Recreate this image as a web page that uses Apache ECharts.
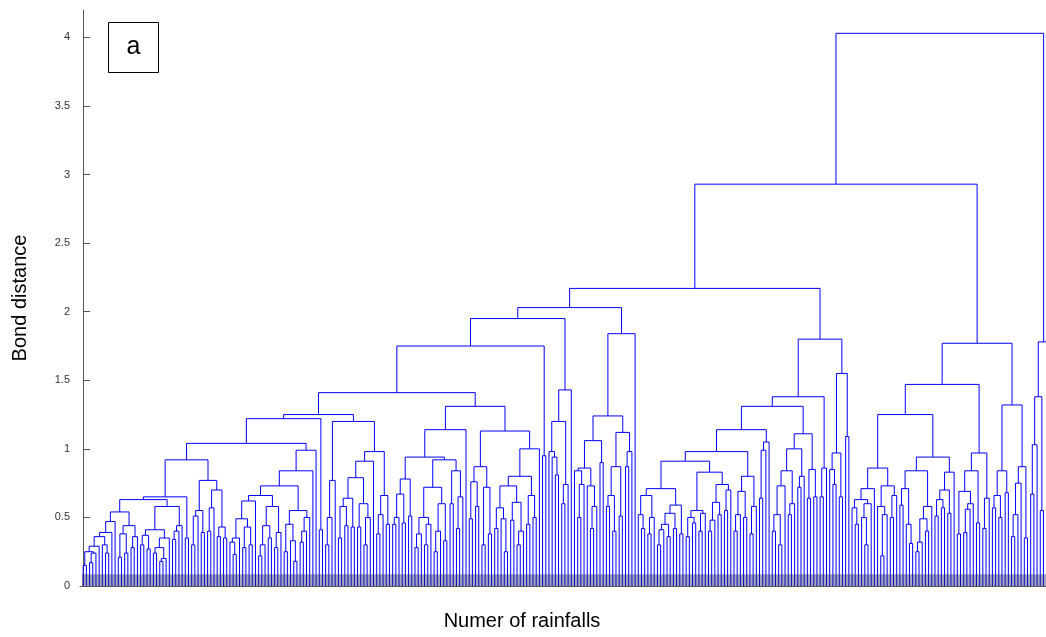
<!DOCTYPE html>
<html>
<head>
<meta charset="utf-8">
<script src="https://cdn.jsdelivr.net/npm/echarts@6/dist/echarts.min.js"></script>
<style>
  html, body { margin: 0; padding: 0; background: #fff; }
  #chart { width: 1046px; height: 637px; }
</style>
</head>
<body>
<div id="chart"></div>
<script>
// dendrogram in postfix: "." = one rainfall, a number = merge the last two at height/100
// {name} = a sub cluster written below
var treeTop = '{L} {L2} 104 . . 41 122 {KR} 125 {IR} 141 . . 95 175 {Gr} 195 {J} 203 {E} 217 {D} 293 {B} 403';

var treeL = '. . 15 . . 17 . 24 25 . 29 . . . 24 30 36 . 39 . 47 . . 21 . . 24 38 . . 28 . 36 44 54 ' +
  '. . 30 . . 27 37 . . 24 . . 18 . 20 28 . 35 41 . . 34 . 40 . 44 58 63 . . 35 65 ' +
  '. . 30 . 51 . . 39 55 . . 40 . 57 . . 36 . . 35 43 70 77 92';

var treeL2 = '. . . 23 32 . 35 . . 28 . . 30 43 49 . 62 . . 22 . 30 . . 35 44 . . 28 . 39 58 66 ' +
  '. . 25 . . . 18 33 45 . . 32 . 40 . 50 55 73 . 84 . 99';

var treeKR = '. . 30 . 50 . 77 . . 35 . . 44 58 . . 43 64 . . 43 . . 30 . 50 60 79 . 91 ' +
  '. . 38 . 52 . . 45 66 98 120';

var treeIR = '. . 45 . 50 . . 46 67 . . 51 78 . . 28 . 38 . . 30 . 45 50 . . 25 . 40 . . 33 60 72 ' +
  '. . 60 . . 42 . 65 84 92 94 . 114 ' +
  '. . 49 . . 58 76 . . 30 . . 38 72 87 . . 42 . . . 25 49 57 . . 48 . . 30 . 40 61 73 ' +
  '. . 45 . . 50 66 80 . 100 113 131';

var treeGr = '. . . . 81 94 98 . . 60 . 74 120 . 143';

var treeJ = '. . . 50 . 74 84 . . . 42 . 58 73 86 . . 90 106 ' +
  '. . 58 . . 40 66 . . 51 87 . . 87 . 98 112 124 . 184';

var treeE = '. . . 42 52 . . 38 . 50 66 . . 30 . 41 . . 36 45 . . 42 53 . . 38 59 71 ' +
  '. . 36 . . 46 50 . . 40 . 53 55 . . 40 . 48 . . 52 61 . . 55 . 70 74 83 91 ' +
  '. . 40 . 52 . . 50 69 . . 38 . 58 80 98 . . 64 . 99 . 105 114 ' +
  '. . 40 . . 30 52 . 73 . . 52 . 60 84 . . 72 . 80 100 . . 64 . . 65 85 111 131 ' +
  '. . 65 . 86 138 . . . 74 85 . . 65 97 . . 109 155 180';

var treeD = '. . . 45 57 . . . 30 50 . 60 63 . 71 . . . 22 . 52 58 . . 50 . 66 73 86 ' +
  '. . 59 . . . 31 45 71 . . 25 . 32 . . 40 49 . 58 84 . . 51 . . 57 63 . . 53 70 . 83 94 125 ' +
  '. . 38 . . 39 . 56 . 60 69 . . 46 84 . . 42 . 64 97 147 ' +
  '. . 57 . . 50 66 . . 68 84 . . 36 . 52 . 75 . . 35 87 132 177';

var treeB = '. . 67 . 103 . . 55 138 . . . 80 104 178';

var yTicks = [0, 0.5, 1, 1.5, 2, 2.5, 3, 3.5, 4];

var subtrees = { L: treeL, L2: treeL2, KR: treeKR, IR: treeIR, Gr: treeGr, J: treeJ, E: treeE, D: treeD, B: treeB };

function expandTree(s) {
  return s.replace(/\{(\w+)\}/g, function (m, k) { return subtrees[k]; });
}

// leaves get x = 0,1,2...; a merge sits at the mean of its two children (like matlab)
function parseTree(str) {
  var tokens = str.trim().split(/\s+/);
  var stack = [], links = [], leaf = 0;
  tokens.forEach(function (t, i) {
    if (t === '.') {
      stack.push({ x: leaf++, h: 0 });
      return;
    }
    if (stack.length < 2) throw new Error('tree: nothing to merge at token ' + i);
    var b = stack.pop(), a = stack.pop();
    var h = +t / 100;
    links.push([a.x, b.x, a.h, b.h, h]);
    stack.push({ x: (a.x + b.x) / 2, h: h });
  });
  if (stack.length !== 1) throw new Error('tree: ' + stack.length + ' roots left');
  return { links: links, leafCount: leaf };
}

var tree = parseTree(expandTree(treeTop));

var myChart = echarts.init(document.getElementById('chart'));

var option = {
  animation: false,
  backgroundColor: '#fff',
  grid: { left: 80, right: 0, top: 10, bottom: 51 },
  xAxis: {
    type: 'value',
    min: -1,
    max: 301.8,
    axisLine: { show: true, lineStyle: { color: '#555', width: 1 } },
    axisTick: { show: false },
    axisLabel: { show: false },
    splitLine: { show: false }
  },
  yAxis: {
    type: 'value',
    min: 0,
    max: 4.2,
    interval: 0.5,
    name: 'Bond distance',
    nameLocation: 'middle',
    nameGap: 50,
    nameTextStyle: { fontSize: 20, color: '#000', fontFamily: 'Liberation Sans' },
    axisLine: { show: true, lineStyle: { color: '#555', width: 1 } },
    axisTick: { show: true, inside: true, length: 7, customValues: yTicks, lineStyle: { color: '#555' } },
    axisLabel: { customValues: yTicks, fontSize: 11, color: '#333', margin: 10, fontFamily: 'Liberation Sans' },
    splitLine: { show: false }
  },
  series: [
    {
      type: 'custom',
      clip: true,
      data: tree.links,
      renderItem: function (params, api) {
        var p1 = api.coord([api.value(0), api.value(2)]);
        var p2 = api.coord([api.value(0), api.value(4)]);
        var p3 = api.coord([api.value(1), api.value(4)]);
        var p4 = api.coord([api.value(1), api.value(3)]);
        return {
          type: 'polyline',
          shape: { points: [p1, p2, p3, p4] },
          style: { stroke: '#0000ff', lineWidth: 1, fill: null }
        };
      }
    },
    {
      // the dark band where all the leaf stems stand
      type: 'custom',
      clip: true,
      silent: true,
      z: 3,
      data: [[-0.4, 301.8, 0, 0.085]],
      renderItem: function (params, api) {
        var a = api.coord([api.value(0), api.value(3)]);
        var b = api.coord([api.value(1), api.value(2)]);
        return {
          type: 'rect',
          shape: { x: a[0], y: a[1], width: b[0] - a[0], height: b[1] - a[1] },
          style: { fill: 'rgba(30,30,90,0.4)' }
        };
      }
    }
  ],
  graphic: [
    {
      type: 'rect',
      shape: { x: 108.5, y: 22.5, width: 50, height: 50 },
      style: { fill: '#fff', stroke: '#000', lineWidth: 1 }
    },
    {
      type: 'text',
      style: { text: 'a', x: 133.5, y: 47, align: 'center', verticalAlign: 'middle', font: '25px "Liberation Sans"', fill: '#000' }
    },
    {
      type: 'text',
      style: { text: 'Numer of rainfalls', x: 522, y: 621, align: 'center', verticalAlign: 'middle', font: '20px "Liberation Sans"', fill: '#000' }
    }
  ]
};

myChart.setOption(option);
window.onresize = myChart.resize;
</script>
</body>
</html>
